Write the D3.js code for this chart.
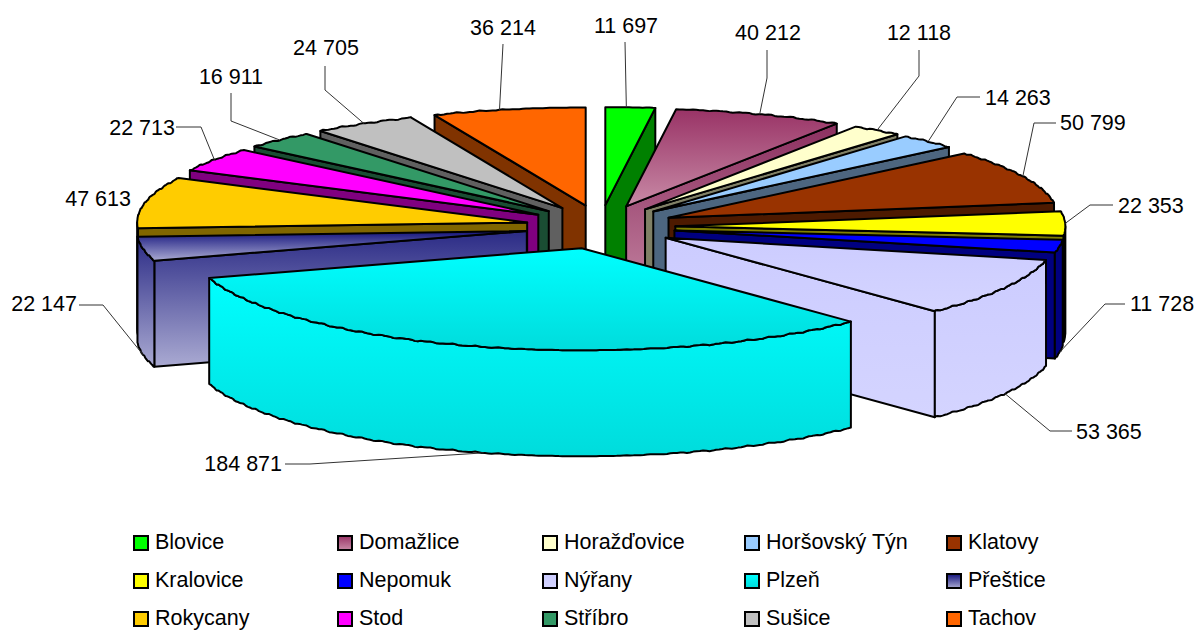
<!DOCTYPE html>
<html>
<head>
<meta charset="utf-8">
<script src="https://cdn.jsdelivr.net/npm/d3@7"></script>
<style>
html, body { margin: 0; background: #fff; }
text { font-family: "Liberation Sans", Arial, sans-serif; fill: #000; }
</style>
</head>
<body>
<div id="chart"></div>
<script>
let width = 1197;
let height = 630;

const names = ["Blovice", "Domažlice", "Horažďovice", "Horšovský Týn", "Klatovy",
    "Kralovice", "Nepomuk", "Nýřany", "Plzeň", "Přeštice",
    "Rokycany", "Stod", "Stříbro", "Sušice", "Tachov"];
const values = [11697, 40212, 12118, 14263, 50799, 22353, 11728, 53365, 184871, 22147, 47613, 22713, 16911, 24705, 36214];
const labels = ["11 697", "40 212", "12 118", "14 263", "50 799", "22 353", "11 728", "53 365", "184 871", "22 147", "47 613", "22 713", "16 911", "24 705", "36 214"];

const topColors = ["#00ff00", "#993366", "#ffffcc", "#99ccff", "#993300", "#ffff00", "#0000ff", "#ccccff", "#00ffff", "#12127c", "#ffcc00", "#ff00ff", "#339966", "#c0c0c0", "#ff6600"];
const sideColors = ["#008000", "#8c3060", "#808066", "#4d6680", "#4d1a00", "#808000", "#000080", "#ccccff", "#00ffff", "#2a2a85", "#806600", "#800080", "#1a4d33", "#606060", "#803300"];
// bottom colour of the gradient fills, null = flat
const fadeColors = [null, "#c88aa6", null, null, null, null, null, "#d4d4ff", "#00dcdc", "#aaaad2", null, null, null, null, null];

// text position; [x, y, anchor]
const labelAt = [[626, 33, "middle"], [768, 40, "middle"], [919, 40, "middle"], [985, 105, "start"], [1060, 130, "start"],
    [1118, 213, "start"], [1130, 311, "start"], [1076, 439, "start"], [282, 471, "end"], [77, 311, "end"],
    [131, 206, "end"], [175, 135, "end"], [231, 84, "middle"], [326, 55, "middle"], [503, 35, "middle"]];
const leaderAt = [
    [[625, 42]], [[767, 50], [767, 78]], [[919, 50], [919, 76]], [[980, 97], [957, 97]], [[1056, 123], [1034, 123]],
    [[1113, 205], [1090, 205]], [[1125, 304], [1105, 304]], [[1072, 431], [1050, 431]], [[285, 464], [310, 464]], [[79, 305], [103, 305]],
    null, [[176, 127], [201, 127]], [[231, 93], [231, 121]], [[325, 66], [325, 90]], [[503, 44]]];
// where along the slice the leader lands
const leaderFrac = [0.42, 0.5, 0.5, 0.5, 0.5, 0.5, 0.5, 0.5, 0.5, 0.5, 0.5, 0.5, 0.5, 0.5, 0.44];

const legendX = [134, 338, 543, 745, 947];
const legendY = [542, 580, 618];

const centerX = 600.5, centerY = 227, radiusX = 390, radiusY = 100, depth = 106;
const explodeX = 0.192, explodeY = 0.219;
const squash = 0.02; // the back of the pie is a bit flatter than the front

let x = d3.scaleLinear().domain([-1, 1]).range([centerX - radiusX, centerX + radiusX]);
let y = d3.scaleLinear().domain([-1, 1]).range([centerY + radiusY, centerY - radiusY]);

let svg = d3.select("#chart").append("svg")
    .attr("width", width).attr("height", height)
    .style("display", "block");
let defs = svg.append("defs");

let pie = d3.pie().sort(null).value(d => d.value);
let slices = pie(names.map((name, i) => ({name, value: values[i], i})));

function grad(id, c0, c1) {
    let g = defs.append("linearGradient").attr("id", id).attr("x1", 0).attr("y1", 0).attr("x2", 0).attr("y2", 1);
    g.append("stop").attr("offset", "0%").attr("stop-color", c0);
    g.append("stop").attr("offset", "100%").attr("stop-color", c1);
}
fadeColors.forEach((c, i) => {
    if (!c) return;
    grad("top" + i, topColors[i], c);
    grad("side" + i, sideColors[i], c);
});
const topFill = i => fadeColors[i] ? `url(#top${i})` : topColors[i];
const sideFill = i => fadeColors[i] ? `url(#side${i})` : sideColors[i];

const line = d3.line();

// apex of an exploded slice
function apex(s) {
    let mid = (s.startAngle + s.endAngle) / 2;
    return [explodeX * Math.sin(mid), explodeY * Math.cos(mid)];
}
function rimPoint(s, a) {
    let o = apex(s);
    let c = Math.cos(a);
    return [x(o[0] + Math.sin(a)), y(o[1] + c * (1 - squash * c))];
}
// the outer edge is a rough polyline in the original
function rim(s, a0, a1) {
    let step = Math.PI / 180 * 0.5;
    let pts = [];
    for (let a = a0; a < a1; a += step) {
        let p = rimPoint(s, a);
        let amp = a === a0 ? 0 : Math.min(1, Math.abs(Math.sin(a)) * 3);
        let wob = amp * (Math.sin(a * 97) * 0.5 + Math.sin(a * 211) * 0.3);
        pts.push([p[0], p[1] + wob]);
    }
    pts.push(rimPoint(s, a1));
    return pts;
}
const down = p => [p[0], p[1] + depth];

function drawFace(pts, fill, g) {
    g.append("path")
        .attr("d", line(pts) + "Z")
        .attr("fill", fill)
        .attr("stroke", "#000")
        .attr("stroke-width", 2)
        .attr("stroke-linejoin", "round");
}

// far slices first
let order = slices.slice().sort((a, b) =>
    Math.cos((b.startAngle + b.endAngle) / 2) - Math.cos((a.startAngle + a.endAngle) / 2));

order.forEach(s => {
    let i = s.data.i;
    let g = svg.append("g").attr("class", "slice");
    let o = apex(s);
    let c = [x(o[0]), y(o[1])];

    if (s.endAngle < Math.PI) {
        let p = rimPoint(s, s.endAngle);
        drawFace([c, p, down(p), down(c)], sideFill(i), g);
    }
    if (s.startAngle > Math.PI) {
        let p = rimPoint(s, s.startAngle);
        drawFace([c, p, down(p), down(c)], sideFill(i), g);
    }
    let a0 = Math.max(s.startAngle, Math.PI / 2), a1 = Math.min(s.endAngle, Math.PI * 1.5);
    if (a1 > a0) {
        let edge = rim(s, a0, a1);
        drawFace(edge.concat(edge.slice().reverse().map(down)), sideFill(i), g);
    }
    drawFace([c].concat(rim(s, s.startAngle, s.endAngle)), topFill(i), g);
});

// leader lines, they start on the rim of the slice
let leaders = svg.append("g");
slices.forEach((s, i) => {
    if (!leaderAt[i]) return;
    let mid = s.startAngle + (s.endAngle - s.startAngle) * leaderFrac[i];
    let p = rimPoint(s, mid);
    if (Math.cos(mid) < 0) p = down(p);
    leaders.append("path")
        .attr("d", line(leaderAt[i].concat([p])))
        .attr("fill", "none")
        .attr("stroke", "#333")
        .attr("stroke-width", 1);
});

svg.append("g").selectAll("text")
    .data(labels)
    .join("text")
    .attr("x", (d, i) => labelAt[i][0])
    .attr("y", (d, i) => labelAt[i][1])
    .attr("text-anchor", (d, i) => labelAt[i][2])
    .attr("font-size", 21.5)
    .text(d => d);

// legend
let legend = svg.append("g");
names.forEach((name, i) => {
    let lx = legendX[i % 5], ly = legendY[Math.floor(i / 5)];
    legend.append("rect")
        .attr("x", lx).attr("y", ly - 6).attr("width", 14).attr("height", 14)
        .attr("fill", topFill(i))
        .attr("stroke", "#000").attr("stroke-width", 2);
    legend.append("text")
        .attr("x", lx + 21).attr("y", ly + 7)
        .attr("font-size", 21.5)
        .text(name);
});
</script>
</body>
</html>
